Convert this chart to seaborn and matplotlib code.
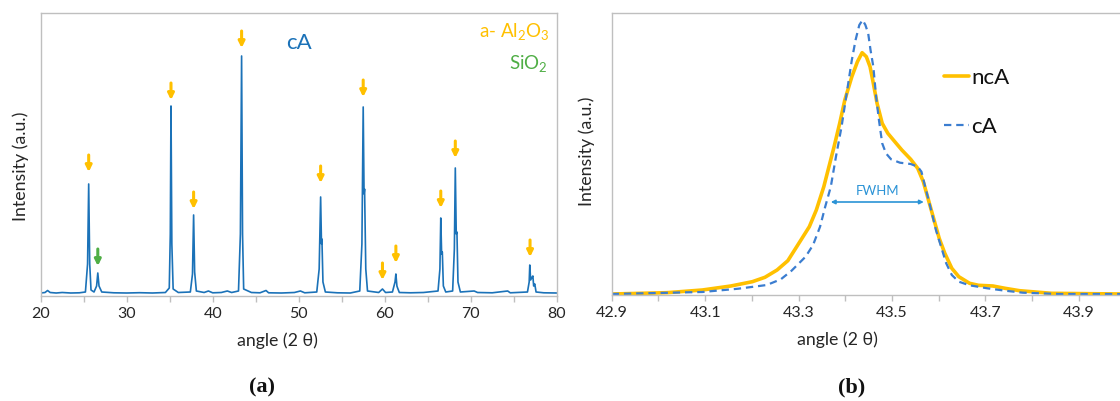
import matplotlib
matplotlib.use("Agg")
import matplotlib.pyplot as plt
import seaborn as sns
import pandas as pd

# (a) XRD pattern of cA (intensity in arbitrary units)
angle_a = [20.0, 20.5, 20.8, 21.1, 21.8, 22.5, 23.5, 24.5, 25.2, 25.45, 25.58, 25.7, 25.85,
           26.2, 26.5, 26.64, 26.78, 27.1, 28.5, 30.0, 31.5, 33.0, 34.5, 34.95, 35.07, 35.15,
           35.25, 35.4, 36.0, 37.4, 37.65, 37.78, 37.9, 38.1, 39.0, 39.5, 40.0, 41.0, 41.7,
           42.2, 43.0, 43.22, 43.36, 43.47, 43.6, 44.5, 45.5, 46.2, 46.5, 48.0, 49.5, 50.2,
           50.7, 52.1, 52.38, 52.55, 52.65, 52.7, 52.82, 53.1, 54.5, 56.0, 57.1, 57.35, 57.5,
           57.6, 57.66, 57.8, 58.0, 59.3, 59.74, 60.1, 60.9, 61.2, 61.3, 61.42, 61.5, 61.7,
           63.0, 64.5, 66.2, 66.42, 66.52, 66.62, 66.7, 66.82, 67.1, 67.9, 68.1, 68.21, 68.32,
           68.4, 68.52, 68.8, 70.4, 70.8, 72.5, 74.3, 74.6, 76.6, 76.8, 76.87, 76.97, 77.15,
           77.23, 77.32, 77.45, 77.6, 78.5, 80.0]
inten_a = [1, 1.5, 3.5, 1.5, 1, 1.5, 1, 1.2, 2, 30, 110, 30, 4,
           2, 8, 21, 8, 2, 1.2, 1, 1.3, 1, 1.5, 6, 60, 188,
           50, 5, 1.5, 2, 20, 79, 22, 3, 1.5, 3, 1.2, 1.5, 3,
           1.5, 3, 60, 238, 60, 5, 1.5, 1.2, 3.5, 1.2, 1, 1.5, 3,
           1.2, 2, 25, 97, 50, 55, 12, 2, 1.2, 1, 3, 50, 187,
           100, 105, 25, 3, 1.5, 5, 1.5, 2, 12, 20, 8, 6, 1.5,
           1.2, 1.5, 3, 25, 76, 40, 42, 8, 2, 3, 45, 126, 60,
           62, 12, 2, 3, 1.5, 1.2, 3, 1.2, 2, 12, 29, 14, 17,
           18, 8, 10, 2, 1.2, 1]

# phase markers: arrow positions and tip heights
al2o3_pos = [25.58, 35.15, 37.78, 43.36, 52.55, 57.5, 59.74, 61.3, 66.52, 68.21, 76.9]
al2o3_tip = [122, 194, 85, 246, 111, 197, 14, 31, 86, 136, 37]
sio2_pos = [26.64]
sio2_tip = [28]

# (b) zoom on the 43.4 peak
angle_nca = [42.9, 43.018, 43.094, 43.155, 43.201, 43.228, 43.254, 43.277, 43.296, 43.323,
             43.338, 43.354, 43.365, 43.376, 43.388, 43.399, 43.414, 43.426, 43.436, 43.445,
             43.453, 43.46, 43.468, 43.479, 43.491, 43.506, 43.521, 43.54, 43.555, 43.567,
             43.578, 43.59, 43.601, 43.613, 43.628, 43.643, 43.666, 43.685, 43.716, 43.742,
             43.773, 43.841, 43.99]
inten_nca = [0, 1.3, 4, 8, 12.3, 16.7, 24, 33.3, 47.3, 67.3,
             84, 107.3, 127.3, 147.3, 170.7, 194, 217.3, 232.3, 241.3, 237.3,
             227.3, 210.7, 190.7, 170.7, 160.7, 152.3, 144, 134.7, 125.7, 112.3,
             94, 74, 55.7, 40.7, 25.7, 17.3, 10.7, 8.7, 8, 5.7,
             3.3, 0.7, 0]
angle_ca = [42.9, 43.094, 43.171, 43.232, 43.262, 43.285, 43.315, 43.331, 43.346, 43.357,
            43.369, 43.38, 43.392, 43.403, 43.414, 43.422, 43.43, 43.437, 43.443, 43.449,
            43.454, 43.46, 43.466, 43.472, 43.479, 43.487, 43.498, 43.517, 43.54, 43.555,
            43.563, 43.571, 43.582, 43.594, 43.605, 43.616, 43.628, 43.643, 43.666, 43.704,
            43.742, 43.78, 43.857, 43.99]
inten_ca = [0, 2, 5.3, 9, 14.7, 23.3, 37.3, 49, 67.3, 87.3,
            107.3, 137.3, 167.3, 200.7, 234, 254, 269, 274, 269, 260.7,
            244, 227.3, 197.3, 174, 150.7, 140.7, 134.7, 131.3, 130, 127.3,
            122.3, 107.3, 87.3, 64, 47.3, 30.7, 19, 12.3, 8.7, 5.7,
            3.3, 1.3, 0, 0]
fwhm_left, fwhm_right, fwhm_level = 43.369, 43.568, 92

BLUE = "#1b72b8"
ORANGE = "#FFC000"
GREEN = "#4fae45"
GREY = "#bfbfbf"
TXT = "#262626"

sns.set_style("white")
plt.rcParams["font.family"] = ["Lato", "DejaVu Sans"]
plt.rcParams["mathtext.fontset"] = "custom"
plt.rcParams["mathtext.rm"] = "Lato"
plt.rcParams["mathtext.it"] = "Lato:italic"

fig = plt.figure(figsize=(11.2, 4.01), dpi=100)
ax1 = fig.add_axes([40.7 / 1120, 105 / 401, 516 / 1120, 283 / 401])
ax2 = fig.add_axes([611.7 / 1120, 106 / 401, 508.3 / 1120, 282 / 401])


def style_axes(ax, right_spine):
    for side in ["left", "top", "bottom", "right"]:
        ax.spines[side].set_color(GREY)
        ax.spines[side].set_linewidth(1.0)
    ax.spines["right"].set_visible(right_spine)
    ax.tick_params(axis="x", which="both", direction="out", length=4, width=1,
                   color=GREY, labelsize=11.5, labelcolor=TXT, pad=4, bottom=True)
    ax.tick_params(axis="y", left=False, labelleft=False)
    ax.set_xlabel("angle (2 θ)", fontsize=12.8, color=TXT, va="center")
    ax.set_ylabel("Intensity (a.u.)", fontsize=12.8, color=TXT, va="center")


# ---- (a)
df_a = pd.DataFrame({"angle": angle_a, "intensity": inten_a})
sns.lineplot(data=df_a, x="angle", y="intensity", ax=ax1, color=BLUE, lw=1.2)
for x, tip in zip(al2o3_pos, al2o3_tip):
    ax1.annotate("", xy=(x, tip), xytext=(x, tip + 17),
                 arrowprops=dict(arrowstyle="-|>", color=ORANGE, lw=2.2, mutation_scale=9,
                                 shrinkA=0, shrinkB=0))
for x, tip in zip(sio2_pos, sio2_tip):
    ax1.annotate("", xy=(x, tip), xytext=(x, tip + 17),
                 arrowprops=dict(arrowstyle="-|>", color=GREEN, lw=2.2, mutation_scale=9,
                                 shrinkA=0, shrinkB=0))
ax1.set_xlim(20, 80)
ax1.set_ylim(-2, 281)
ax1.set_xticks(range(20, 81, 10))
ax1.set_xticks(range(25, 80, 10), minor=True)
style_axes(ax1, True)
ax1.xaxis.set_label_coords(0.458, -0.159)
ax1.yaxis.set_label_coords(-0.038, 0.459)
ax1.text(0.5, 0.894, "cA", transform=ax1.transAxes, color=BLUE, fontsize=16,
         ha="center", va="center")
ax1.text(0.987, 0.933, "a- Al$_2$O$_3$", transform=ax1.transAxes, color=ORANGE, fontsize=13.5,
         ha="right", va="center")
ax1.text(0.983, 0.82, "SiO$_2$", transform=ax1.transAxes, color=GREEN, fontsize=13.5,
         ha="right", va="center")

# ---- (b)
df_n = pd.DataFrame({"angle": angle_nca, "intensity": inten_nca})
df_c = pd.DataFrame({"angle": angle_ca, "intensity": inten_ca})
sns.lineplot(data=df_n, x="angle", y="intensity", ax=ax2, color=ORANGE, lw=2.6, label="ncA")
sns.lineplot(data=df_c, x="angle", y="intensity", ax=ax2, color="#3b7dd0", lw=1.6,
             label="cA", dashes=False)
ax2.lines[1].set_dashes([3.3, 2.2])
ax2.annotate("", xy=(fwhm_left, fwhm_level), xytext=(fwhm_right, fwhm_level),
             arrowprops=dict(arrowstyle="<|-|>", color="#2b93d6", lw=1.2, mutation_scale=6,
                             shrinkA=0, shrinkB=0))
ax2.text((fwhm_left + fwhm_right) / 2, fwhm_level + 5, "FWHM", color="#2b93d6",
         fontsize=9.5, ha="center", va="bottom")
ax2.set_xlim(42.9, 43.988)
ax2.set_ylim(-1, 281)
ax2.set_xticks([42.9, 43.1, 43.3, 43.5, 43.7, 43.9])
ax2.set_xticklabels(["42.9", "43.1", "43.3", "43.5", "43.7", "43.9"])
ax2.set_xticks([43.0, 43.2, 43.4, 43.6, 43.8], minor=True)
style_axes(ax2, False)
ax2.xaxis.set_label_coords(0.445, -0.159)
ax2.yaxis.set_label_coords(-0.049, 0.509)
leg = ax2.legend(loc="upper left", bbox_to_anchor=(0.615, 0.875), frameon=False, fontsize=16,
                 handlelength=1.1, handletextpad=0.1, labelspacing=1.3)
for t in leg.get_texts():
    t.set_color("#111111")

fig.text(262 / 1120, 1 - 387 / 401, "(a)", fontsize=16, fontweight="bold",
         family="Liberation Serif", ha="center", va="center", color="#111111")
fig.text(852 / 1120, 1 - 387 / 401, "(b)", fontsize=16, fontweight="bold",
         family="Liberation Serif", ha="center", va="center", color="#111111")

fig.savefig("out.png", dpi=100)
